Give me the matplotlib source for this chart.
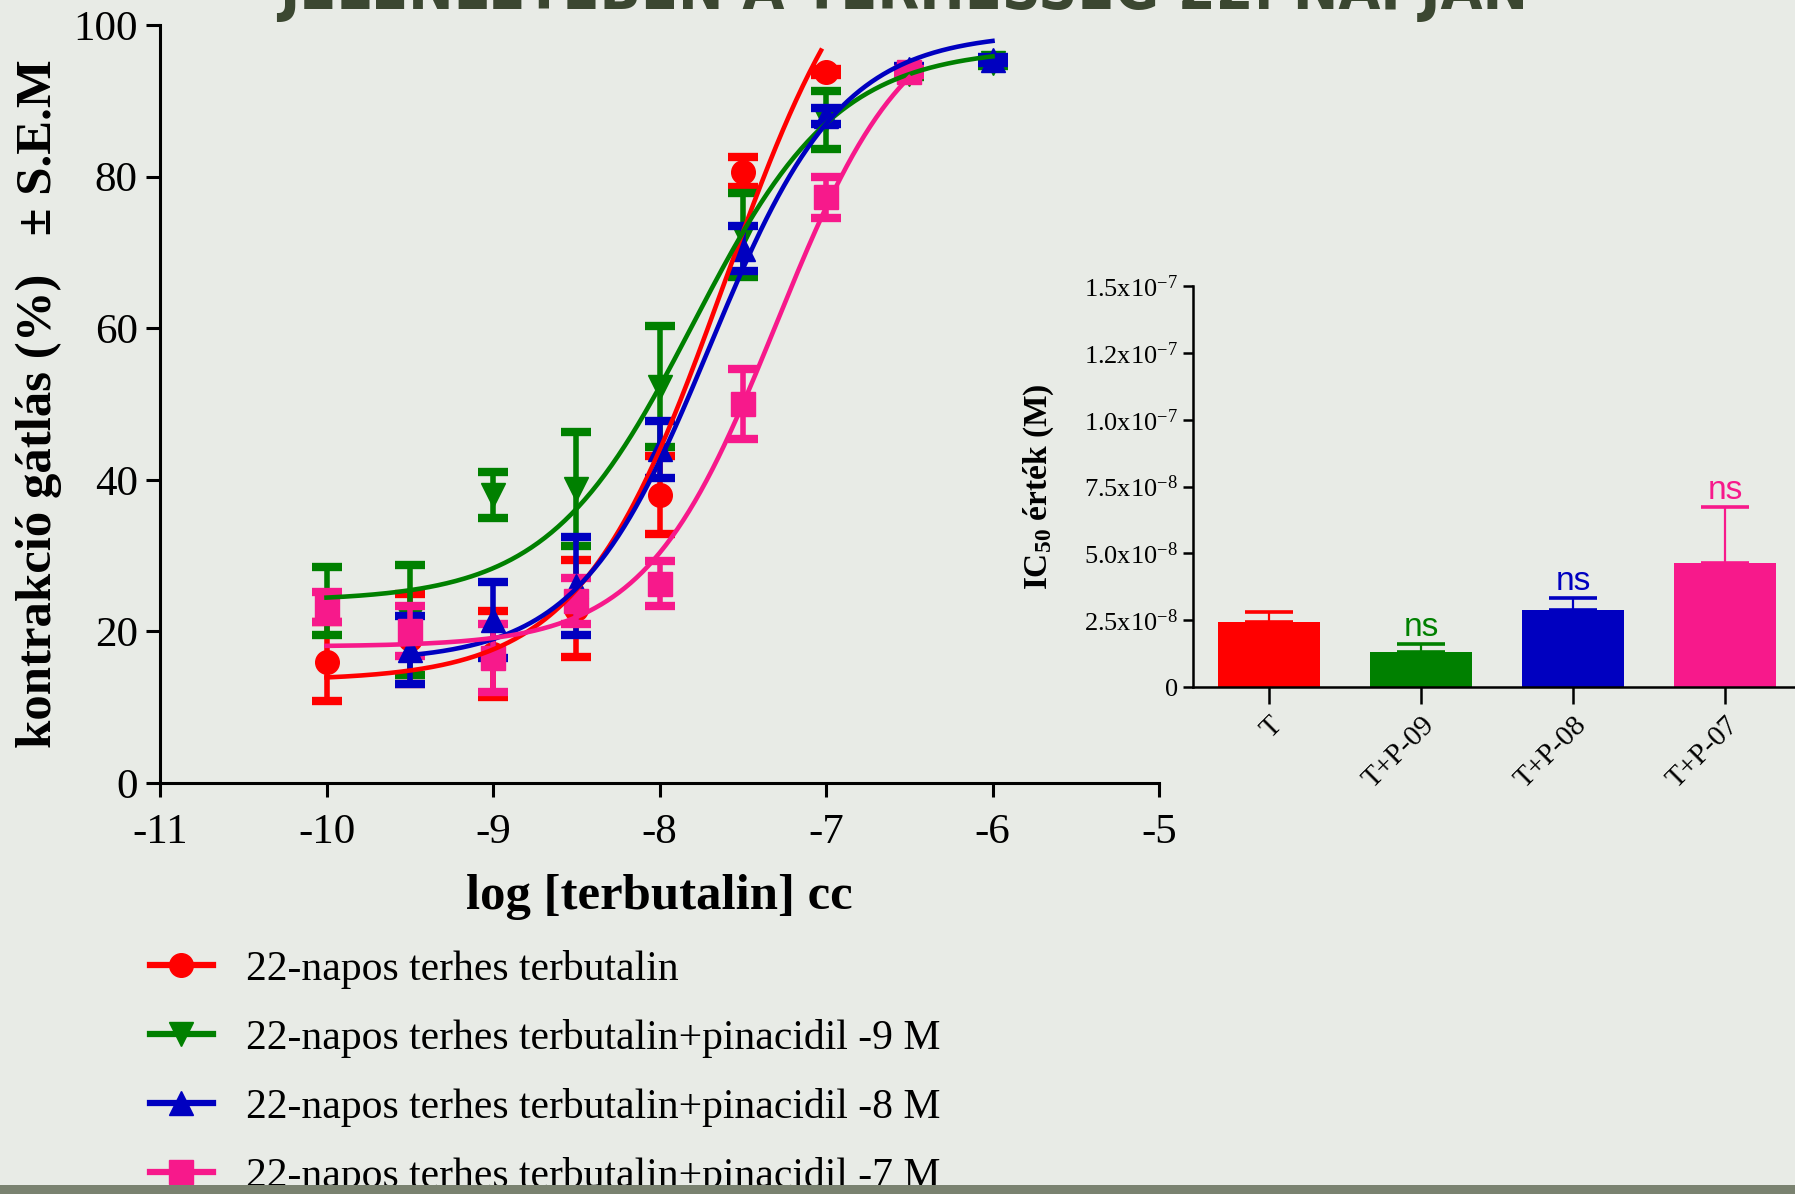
import numpy as np
import matplotlib
matplotlib.use("Agg")
import matplotlib.pyplot as plt
from matplotlib.lines import Line2D
from matplotlib.patches import Rectangle

# ---------------- data ----------------
series_labels = [
    "22-napos terhes terbutalin",
    "22-napos terhes terbutalin+pinacidil -9 M",
    "22-napos terhes terbutalin+pinacidil -8 M",
    "22-napos terhes terbutalin+pinacidil -7 M",
]
series_colors = ["#ff0000", "#008000", "#0000c0", "#f7198b"]
series_markers = ["o", "v", "^", "s"]

red_x = [-10, -9.5, -9, -8.5, -8, -7.5, -7]
red_y = [16.0, 19.0, 17.0, 23.0, 38.0, 80.6, 93.8]
red_err = [5.2, 6.0, 5.7, 6.4, 5.2, 2.0, 0.4]

green_x = [-10, -9.5, -9, -8.5, -8, -7.5, -7, -6.5, -6]
green_y = [24.0, 21.5, 38.0, 38.8, 52.3, 72.3, 87.5, 93.6, 95.0]
green_err = [4.5, 7.2, 3.0, 7.5, 8.0, 5.6, 3.8, 0.4, 0.4]

blue_x = [-9.5, -9, -8.5, -8, -7.5, -7, -6.5, -6]
blue_y = [17.5, 21.5, 26.0, 44.0, 70.5, 88.0, 94.2, 95.4]
blue_err = [4.5, 5.0, 6.5, 3.7, 3.0, 1.0, 0.4, 0.4]

pink_x = [-10, -9.5, -9, -8.5, -8, -7.5, -7, -6.5]
pink_y = [23.2, 20.0, 16.5, 24.0, 26.3, 50.0, 77.3, 93.8]
pink_err = [2.0, 3.3, 4.5, 3.0, 3.0, 4.6, 2.7, 0.4]

# sigmoidal dose-response fit parameters (bottom, top, logIC50, hill, x-range)
fit_bottom = [13.5, 24.0, 16.0, 18.0]
fit_top = [118.5, 97.0, 99.0, 103.0]
fit_logic50 = [-7.61, -7.80, -7.70, -7.30]
fit_hill = [1.0, 1.0, 1.1, 1.1]
fit_xmin = [-10, -10, -9.5, -10]
fit_xmax = [-7.03, -6, -6, -6.5]

x_ticks = [-11, -10, -9, -8, -7, -6, -5]
x_ticklabels = ["-11", "-10", "-9", "-8", "-7", "-6", "-5"]
y_ticks = [0, 20, 40, 60, 80, 100]

# IC50 inset
ic50_groups = ["T", "T+P-09", "T+P-08", "T+P-07"]
ic50_values = [2.45e-8, 1.30e-8, 2.88e-8, 4.63e-8]
ic50_sem = [0.35e-8, 0.30e-8, 0.46e-8, 2.10e-8]
ic50_sig = ["", "ns", "ns", "ns"]
ic50_yticks = [0, 2.5e-8, 5.0e-8, 7.5e-8, 1.0e-7, 1.25e-7, 1.5e-7]
ic50_yticklabels = ["0", r"2.5x10$^{-8}$", r"5.0x10$^{-8}$", r"7.5x10$^{-8}$",
                    r"1.0x10$^{-7}$", r"1.2x10$^{-7}$", r"1.5x10$^{-7}$"]

# ---------------- figure ----------------
BG = "#e8ebe6"
SERIF = ["Liberation Serif", "DejaVu Serif"]
plt.rcParams["font.family"] = SERIF
plt.rcParams["mathtext.fontset"] = "custom"
plt.rcParams["mathtext.rm"] = "Liberation Serif"
plt.rcParams["mathtext.it"] = "Liberation Serif:italic"
plt.rcParams["mathtext.bf"] = "Liberation Serif:bold"

fig = plt.figure(figsize=(17.95, 11.94), dpi=100, facecolor=BG)

# title fragment at very top (cut off)
fig.text(0.5035, 1 - 9 / 1194, "JELENLÉTÉBEN A TERHESSÉG 22. NAPJÁN",
         ha="center", va="baseline", fontsize=43.5, color="#3b4731",
         family="DejaVu Sans", weight="bold", stretch="condensed")

ax = fig.add_axes([160 / 1795, 1 - 783 / 1194, (1159 - 160) / 1795, (783 - 25) / 1194])
ax.set_facecolor("none")

xs_all = [red_x, green_x, blue_x, pink_x]
ys_all = [red_y, green_y, blue_y, pink_y]
es_all = [red_err, green_err, blue_err, pink_err]

handles = []
for i in range(4):
    c = series_colors[i]
    ax.errorbar(xs_all[i], ys_all[i], yerr=es_all[i], fmt=series_markers[i],
                color=c, ms=17, elinewidth=4, capsize=11, capthick=6,
                zorder=3 + i * 0.1)
    xx = np.linspace(fit_xmin[i], fit_xmax[i], 300)
    yy = fit_bottom[i] + (fit_top[i] - fit_bottom[i]) / (
        1 + 10 ** ((fit_logic50[i] - xx) * fit_hill[i]))
    ax.plot(xx, yy, color=c, lw=3.3, zorder=4 + i * 0.1)
    handles.append(Line2D([], [], color=c, lw=4.5, marker=series_markers[i], ms=17))

ax.set_xlim(-11, -5)
ax.set_ylim(0, 100)
ax.set_xticks(x_ticks)
ax.set_xticklabels(x_ticklabels)
ax.set_yticks(y_ticks)
for s in ["top", "right"]:
    ax.spines[s].set_visible(False)
for s in ["left", "bottom"]:
    ax.spines[s].set_linewidth(2.2)
ax.tick_params(axis="both", direction="out", length=10, width=2.2, labelsize=31)
ax.tick_params(axis="x", pad=12)
ax.tick_params(axis="y", pad=6)
ax.set_xlabel("log [terbutalin] cc", fontsize=36.5, weight="bold", labelpad=16)
ax.set_ylabel("kontrakció gátlás (%)   ± S.E.M", fontsize=36.5, weight="bold",
              labelpad=8)

# inset bar chart
ax2 = fig.add_axes([1193 / 1795, 1 - 687 / 1194, (1795 - 1193) / 1795, (687 - 286) / 1194])
ax2.set_facecolor("none")
pos = np.arange(len(ic50_groups))
for i in range(4):
    ax2.bar(pos[i], ic50_values[i], width=0.67, color=series_colors[i], zorder=2)
    ax2.errorbar(pos[i], ic50_values[i], yerr=[[0], [ic50_sem[i]]], fmt="none",
                 ecolor=series_colors[i], elinewidth=1.6, capsize=17, capthick=2.6,
                 zorder=3)
    if ic50_sig[i]:
        ax2.text(pos[i], ic50_values[i] + ic50_sem[i] + 0.04e-8, ic50_sig[i],
                 ha="center", va="bottom", color=series_colors[i], fontsize=24,
                 family="Liberation Sans")
ax2.set_xlim(-0.5, 3.46)
ax2.set_ylim(0, 1.5e-7)
ax2.set_xticks(pos)
ax2.set_xticklabels(ic50_groups, rotation=45, ha="right", rotation_mode="anchor",
                    fontsize=21)
ax2.set_yticks(ic50_yticks)
ax2.set_yticklabels(ic50_yticklabels, fontsize=19)
for s in ["top", "right"]:
    ax2.spines[s].set_visible(False)
for s in ["left", "bottom"]:
    ax2.spines[s].set_linewidth(1.8)
ax2.tick_params(axis="both", direction="out", length=7, width=1.8, pad=4)
ax2.tick_params(axis="x", length=12, pad=6)
ax2.set_ylabel(r"IC$_{\mathbf{50}}$ érték (M)", fontsize=24, weight="bold", labelpad=20)

# legend
leg = fig.legend(handles, series_labels, loc="upper left",
                 bbox_to_anchor=(150 / 1795, 1 - 950 / 1194), frameon=False,
                 fontsize=30, handlelength=1.5, handletextpad=0.8,
                 labelspacing=0.72, borderpad=0, borderaxespad=0)

# dark strip at the very bottom
fig.patches.append(Rectangle((0, 0), 1, 9 / 1194, transform=fig.transFigure,
                             facecolor="#7a8270", edgecolor="none", zorder=10))

fig.savefig("out.png", dpi=100, facecolor=BG)
